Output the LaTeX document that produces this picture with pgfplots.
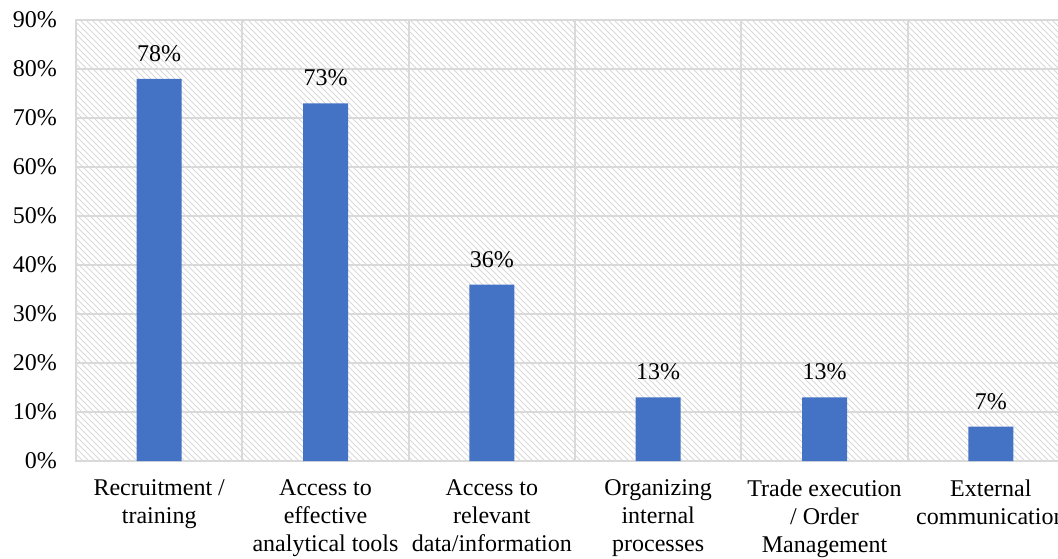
\documentclass[border=0pt]{standalone}
\usepackage{fontspec}
\setmainfont{Liberation Serif}
\usepackage{pgfplots}
\pgfplotsset{compat=1.18}
\usetikzlibrary{patterns}
\definecolor{barblue}{HTML}{4472C4}
\definecolor{gridgray}{HTML}{D9D9D9}
\begin{document}
\begin{tikzpicture}
\useasboundingbox (0,0) rectangle (529pt,279pt);
\begin{axis}[
  at={(38pt,48.5pt)}, anchor=south west,
  width=499pt, height=220.5pt, scale only axis,
  /pgf/number format/assume math mode=true,
  xmin=-0.5, xmax=5.5, ymin=0, ymax=90,
  xtick={0,1,2,3,4,5},
  xticklabels={{Recruitment /\\training},{Access to\\effective\\analytical tools},{Access to\\relevant\\data/information},{Organizing\\internal\\processes},{Trade execution\\/ Order\\Management},{External\\communication}},
  xticklabel style={align=center, font=\fontsize{12}{14}\selectfont, yshift=-6pt},
  minor xtick={-0.5,0.5,1.5,2.5,3.5,4.5,5.5},
  ytick={0,10,...,90},
  yticklabels={0\%,10\%,20\%,30\%,40\%,50\%,60\%,70\%,80\%,90\%},
  yticklabel style={font=\fontsize{12}{14}\selectfont, xshift=-6pt},
  major x tick style={draw=none}, minor tick length=0pt, major tick length=0pt,
  ymajorgrids, xminorgrids,
  grid style={gridgray, line width=1pt},
  axis line style={gridgray, line width=1pt},
  axis background/.style={pattern=north west lines, pattern color=black!15},
  nodes near coords={\pgfmathprintnumber{\pgfplotspointmeta}\%},
  nodes near coords style={font=\fontsize{12}{14}\selectfont, black, yshift=5pt},
]
\addplot[ybar, bar width=22.5pt, fill=barblue, draw=none] coordinates {
  (0,78) (1,73) (2,36) (3,13) (4,13) (5,7)
};
\end{axis}
\end{tikzpicture}
\end{document}
